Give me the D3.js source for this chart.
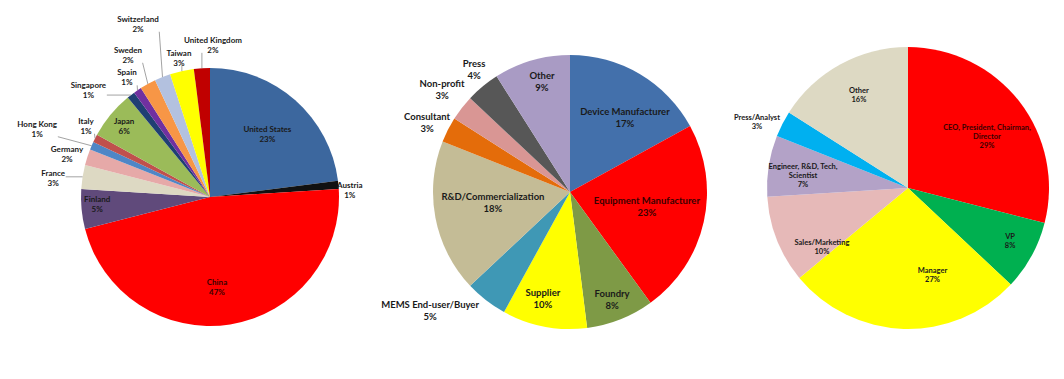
<!DOCTYPE html>
<html>
<head>
<meta charset="utf-8">
<script src="https://cdn.jsdelivr.net/npm/d3@7"></script>
<style>
  body { margin: 0; background: #fff; }
  svg { display: block; }
</style>
</head>
<body>
<svg id="chart" width="1064" height="379"></svg>
<script>
// attendees by country
const countries = ['United States', 'Austria', 'China', 'Finland', 'France', 'Germany', 'Hong Kong', 'Italy',
  'Japan', 'Singapore', 'Spain', 'Sweden', 'Switzerland', 'Taiwan', 'United Kingdom'];
const countryPct = [23, 1, 47, 5, 3, 2, 1, 1, 6, 1, 1, 2, 2, 3, 2];
const countryColors = ['#3c679e', '#111111', '#ff0000', '#604a7b', '#ddd9c3', '#e6a9a8', '#4f86c6', '#c0504d',
  '#9bbb59', '#1f3f73', '#7030a0', '#f79646', '#b3c1df', '#ffff00', '#c00000'];

// attendees by business type
const businesses = ['Device Manufacturer', 'Equipment Manufacturer', 'Foundry', 'Supplier', 'MEMS End-user/Buyer',
  'R&D/Commercialization', 'Consultant', 'Non-profit', 'Press', 'Other'];
const businessPct = [17, 23, 8, 10, 5, 18, 3, 3, 4, 9];
const businessColors = ['#4370ab', '#ff0000', '#7e9a46', '#ffff00', '#3f98b5', '#c4bc96', '#e46c0a', '#d99694',
  '#575757', '#a99bc4'];

// attendees by job title
const titles = ['CEO, President, Chairman,\nDirector', 'VP', 'Manager', 'Sales/Marketing',
  'Engineer, R&D, Tech,\nScientist', 'Press/Analyst', 'Other'];
const titlePct = [29, 8, 27, 10, 7, 3, 16];
const titleColors = ['#ff0000', '#00b050', '#ffff00', '#e6b9b8', '#b3a2c7', '#00b0f0', '#ddd9c3'];

// label layout: radius as fraction of pie radius, angle nudge in degrees
const countryLabelR = [0.66, 1.085, 0.705, 0.876, 1.225, 1.157, 1.44, 1.108, 0.864, 1.253, 1.128, 1.271, 1.453, 1.104, 1.178];
const countryNudge = [1, 2.5, 4.6, 2, -2.1, -1.3, -1.9, 2.8, 0, -11, -0.6, -1.2, -1, 0, 4.7];
const businessLabelR = [0.673, 0.572, 0.846, 0.806, 1.341, 0.568, 1.159, 1.195, 1.133, 0.828];
const businessNudge = [6, -1.6, 0.3, 3.4, 11.8, 2.7, -1.2, 0.8, 1.4, 1.9];
const titleLabelR = [0.671, 0.814, 0.642, 0.739, 0.75, 1.169, 0.749];
const titleNudge = [4.4, -1.6, -17.5, -12.7, -2.2, -3.4, 1.1];

const svg = d3.select('#chart');
const font = 'Lato, "Open Sans", sans-serif';

function drawPie(opts) {
  const { names, values, colors, cx, cy, r, fontSize, lineH, labelR, nudge, leaders } = opts;
  const rows = names.map((n, i) => ({ name: n, value: values[i], color: colors[i], lr: labelR[i], nudge: nudge[i] }));

  const pie = d3.pie().sort(null).value(d => d.value);
  const arc = d3.arc().innerRadius(0).outerRadius(r);
  const arcs = pie(rows);

  const g = svg.append('g').attr('transform', `translate(${cx},${cy})`);

  g.append('g')
    .selectAll('path')
    .data(arcs)
    .enter()
    .append('path')
    .attr('d', arc)
    .attr('fill', d => d.data.color);

  const lines = g.append('g')
    .attr('stroke', '#8c8c8c')
    .attr('stroke-width', 0.8)
    .attr('fill', 'none');

  const labels = g.append('g')
    .attr('font-family', font)
    .attr('font-weight', 'bold')
    .attr('font-size', fontSize)
    .attr('text-anchor', 'middle');

  arcs.forEach(d => {
    const mid = (d.startAngle + d.endAngle) / 2;
    const a = mid + d.data.nudge * Math.PI / 180;
    const [lx, ly] = d3.pointRadial(a, d.data.lr * r);
    const parts = d.data.name.split('\n').concat([d.data.value + '%']);
    const fill = d.data.color === '#ff0000' ? '#3a0000' : '#1a1a1a';
    const t = labels.append('text').attr('fill', fill);
    const y0 = ly - (parts.length - 1) * lineH / 2 + fontSize * 0.35;
    parts.forEach((p, k) => {
      t.append('tspan').attr('x', lx).attr('y', y0 + k * lineH).text(p);
    });

    if (leaders && d.data.lr > 1) {
      const b = t.node().getBBox();
      const [ex, ey] = d3.pointRadial(mid, r);
      const px = Math.max(b.x, Math.min(ex, b.x + b.width));
      const py = Math.max(b.y + 2, Math.min(ey, b.y + b.height - 2));
      if (Math.hypot(ex - px, ey - py) > 4) {
        lines.append('line')
          .attr('x1', px).attr('y1', py)
          .attr('x2', ex).attr('y2', ey);
      }
    }
  });
}

drawPie({
  names: countries, values: countryPct, colors: countryColors,
  cx: 210, cy: 197, r: 129, fontSize: 8, lineH: 10,
  labelR: countryLabelR, nudge: countryNudge, leaders: true
});

drawPie({
  names: businesses, values: businessPct, colors: businessColors,
  cx: 570, cy: 192, r: 137, fontSize: 9.5, lineH: 12,
  labelR: businessLabelR, nudge: businessNudge, leaders: false
});

drawPie({
  names: titles, values: titlePct, colors: titleColors,
  cx: 908, cy: 188, r: 141, fontSize: 7.5, lineH: 9,
  labelR: titleLabelR, nudge: titleNudge, leaders: false
});
</script>
</body>
</html>
